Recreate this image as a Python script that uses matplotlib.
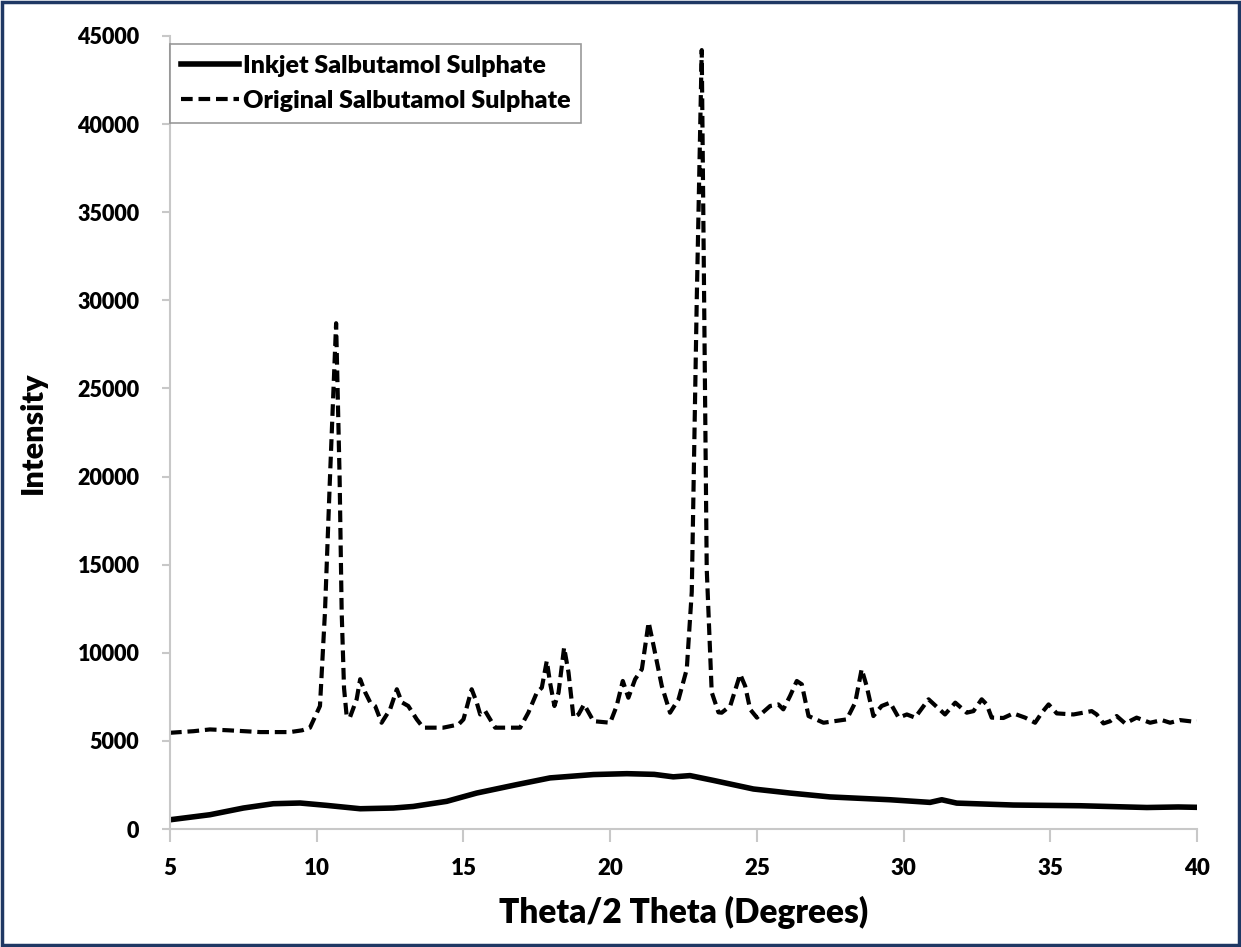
import matplotlib.pyplot as plt
from matplotlib.patches import Rectangle

# ---------------------------------------------------------
# DATA
# ---------------------------------------------------------

orig_x = [5.0, 5.8, 6.36, 7.0, 8.07, 9.09, 9.5, 9.77, 10.11, 10.28, 10.45, 10.66,
          10.78, 10.85, 10.93, 11.02, 11.13, 11.36, 11.48, 11.65, 11.82, 11.99,
          12.21, 12.50, 12.73, 12.90, 13.12, 13.41, 13.63, 14.31, 14.83, 15.0,
          15.28, 15.45, 15.57, 15.74, 16.08, 16.93, 17.21, 17.50, 17.67, 17.84,
          17.95, 18.10, 18.24, 18.43, 18.58, 18.75, 18.92, 19.11, 19.43, 20.0,
          20.22, 20.43, 20.62, 20.85, 21.08, 21.31, 21.48, 21.76, 22.04, 22.33,
          22.61, 22.78, 22.95, 23.12, 23.29, 23.46, 23.69, 23.80, 24.09, 24.43,
          24.60, 24.77, 25.0, 25.45, 25.73, 25.90, 26.13, 26.36, 26.53, 26.76,
          27.27, 28.06, 28.35, 28.57, 28.74, 28.97, 29.25, 29.54, 29.83, 30.11,
          30.39, 30.85, 31.41, 31.76, 32.15, 32.38, 32.66, 32.83, 33.0, 33.40,
          33.74, 34.14, 34.48, 34.71, 34.94, 35.22, 35.79, 36.41, 36.58, 36.81,
          37.04, 37.26, 37.55, 37.94, 38.40, 38.80, 39.08, 39.42, 39.88, 40.0]
orig_y = [5460, 5550, 5650, 5600, 5500, 5500, 5600, 5750, 6980, 12300, 19900, 28700,
          19900, 12300, 8000, 6400, 6330, 7360, 8500, 7760, 7190, 6980,
          6030, 6790, 7930, 7190, 6980, 6220, 5750, 5750, 5930, 6220,
          7930, 7190, 6500, 6690, 5750, 5750, 6600, 7740, 8020, 9540,
          8310, 6980, 7740, 10300, 8880, 6320, 6500, 7070, 6120, 6030,
          6980, 8400, 7450, 8500, 9070, 11730, 10390, 8110, 6600, 7360,
          9070, 13450, 30000, 44200, 14760, 7760, 6620, 6600, 6980, 8780,
          8110, 6790, 6320, 6980, 7070, 6790, 7550, 8400, 8210, 6410,
          6030, 6220, 7170, 9070, 8110, 6410, 6980, 7170, 6320, 6500,
          6320, 7360, 6500, 7170, 6600, 6690, 7360, 7070, 6320, 6300,
          6560, 6320, 6030, 6600, 7070, 6560, 6500, 6690, 6500, 5990,
          6120, 6410, 5990, 6320, 6030, 6180, 6030, 6180, 6090, 6100]

inkjet_x = [5.0, 6.36, 7.50, 8.52, 9.43, 10.34, 11.48, 12.61, 13.29, 14.43, 15.45,
            16.82, 17.95, 19.43, 20.57, 21.5, 22.15, 22.72, 23.51, 24.88, 26.13,
            27.49, 29.54, 30.90, 31.30, 31.81, 33.74, 36.01, 38.29, 39.36, 40.0]
inkjet_y = [524, 810, 1190, 1435, 1475, 1340, 1150, 1190, 1280, 1570, 2040,
            2520, 2900, 3090, 3140, 3100, 2960, 3030, 2760, 2270, 2040,
            1820, 1660, 1510, 1660, 1470, 1360, 1320, 1220, 1250, 1230]

x_ticks = [5, 10, 15, 20, 25, 30, 35, 40]
y_ticks = [0, 5000, 10000, 15000, 20000, 25000, 30000, 35000, 40000, 45000]

# ---------------------------------------------------------
# PLOT
# ---------------------------------------------------------

plt.rcParams["font.family"] = ["Lato", "DejaVu Sans"]
plt.rcParams["font.weight"] = "bold"

fig = plt.figure(figsize=(12.41, 9.47), dpi=100)
ax = fig.add_axes([0.137, 0.1246, 0.8276, 0.8374])

ax.plot(inkjet_x, inkjet_y, color="black", lw=4.0, solid_joinstyle="round",
        label="Inkjet Salbutamol Sulphate")
ax.plot(orig_x, orig_y, color="black", lw=3.0, linestyle=(0, (2.8, 1.4)),
        label="Original Salbutamol Sulphate")

ax.set_xlim(5, 40)
ax.set_ylim(0, 45000)
ax.set_xticks(x_ticks)
ax.set_yticks(y_ticks)
ax.tick_params(axis="x", direction="out", length=9, width=1.5, color="#c8c8c8",
               labelsize=16, pad=12)
ax.tick_params(axis="y", direction="out", length=6, width=1.5, color="#c8c8c8",
               labelsize=15.5, pad=16)
for lbl in ax.get_xticklabels() + ax.get_yticklabels():
    lbl.set_fontweight("heavy")

for side in ["top", "right"]:
    ax.spines[side].set_visible(False)
for side in ["left", "bottom"]:
    ax.spines[side].set_color("#c8c8c8")
    ax.spines[side].set_linewidth(1.5)

ax.set_xlabel("Theta/2 Theta (Degrees)", fontsize=24, fontweight="heavy", labelpad=12)
ax.set_ylabel("Intensity", fontsize=22, fontweight="heavy", labelpad=22)

leg = ax.legend(loc="upper left", bbox_to_anchor=(0.0, 0.99), fontsize=18,
                frameon=True, fancybox=False, handlelength=2.3, handletextpad=0.15,
                borderpad=0.45, labelspacing=0.5, borderaxespad=0.0)
leg.get_frame().set_edgecolor("#808080")
leg.get_frame().set_linewidth(1.2)
for t in leg.get_texts():
    t.set_fontweight("heavy")

# outer frame around the whole picture
fig.patches.append(Rectangle((0.002, 0.002), 0.996, 0.996, transform=fig.transFigure,
                             fill=False, edgecolor="#1F3864", lw=2.5))

fig.savefig("out.png", dpi=100)
